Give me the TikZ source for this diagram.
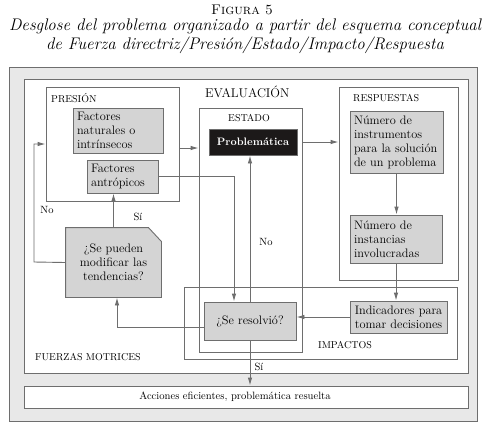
\documentclass[tikz,border=0pt]{standalone}
\usepackage{tikz}
\usetikzlibrary{positioning,arrows.meta}

\definecolor{linegray}{HTML}{6E6E6E}
\definecolor{boxgray}{HTML}{D4D4D4}
\definecolor{panelgray}{HTML}{E8E8E8}
\definecolor{darkbox}{HTML}{1C1919}

\begin{document}
\begin{tikzpicture}[
    x=1pt, y=-1pt,
    >={Latex[length=8pt,width=4.5pt]},
    frame/.style={rectangle, draw=linegray, line width=0.9pt, inner sep=0pt},
    item/.style={rectangle, draw=linegray, fill=boxgray, line width=0.9pt, align=left, font=\fontsize{12.3}{14}\selectfont, inner xsep=4pt, inner ysep=0pt},
    query/.style={item, align=center},
    dark/.style={rectangle, draw=linegray, fill=darkbox, text=white, line width=0.9pt, font=\fontsize{10.8}{14}\selectfont\bfseries, inner sep=0pt},
    head/.style={font=\fontsize{10}{12}\selectfont, inner sep=0pt, anchor=west},
    lbl/.style={font=\fontsize{10.5}{12}\selectfont, inner sep=0pt},
    arrow/.style={->, line width=0.9pt, draw=linegray, color=linegray}
]
\useasboundingbox (0,0) rectangle (489,429);

% Title
\node[font=\fontsize{14}{16}\selectfont\scshape] (fig) at (242,10) {Figura 5};
\node[font=\fontsize{16.8}{19}\selectfont\itshape, align=center] (title) at (245,36.5)
  {Desglose del problema organizado a partir del esquema conceptual\\de Fuerza directriz/Presi\'on/Estado/Impacto/Respuesta};

% Panels
\node[frame, fill=panelgray, minimum width=468, minimum height=354] (panel) at (243,244) {};
\node[frame, fill=white, minimum width=444, minimum height=294] (fuerzas) at (246,226) {};
\node[frame, fill=white, minimum width=444, minimum height=22] (acciones) at (246,397) {};
\node[font=\fontsize{10.6}{12}\selectfont, inner sep=0pt] (accionestxt) at (235,397) {Acciones eficientes, problem\'atica resuelta};

% Containers
\node[frame, minimum width=133, minimum height=114] (presion) at (112.5,144) {};
\node[frame, minimum width=103, minimum height=244] (estado) at (250.5,230) {};
\node[frame, minimum width=119, minimum height=193] (respuestas) at (398.5,183.5) {};
\node[frame, minimum width=273, minimum height=72] (impactos) at (320.5,323) {};

% Container headings
\node[head] (hpresion) at (51,98) {PRESI\'ON};
\node[head, font=\fontsize{12.7}{14}\selectfont] (hevaluacion) at (205,92) {EVALUACI\'ON};
\node[head] (hestado) at (228,118) {ESTADO};
\node[head] (hrespuestas) at (353,98) {RESPUESTAS};
\node[head] (himpactos) at (318,345) {IMPACTOS};
\node[head] (hfuerzas) at (35,357) {FUERZAS MOTRICES};

% Boxes
\node[item, text width=82, minimum height=45] (naturales) at (118,130.5) {Factores\\naturales o\\intr\'insecos};
\node[item, text width=63, minimum height=33] (antrop) at (122.5,176.5) {Factores\\antr\'opicos};
\node[dark, minimum width=88, minimum height=26] (prob) at (253,142) {Problem\'atica};
\node[item, text width=85, minimum height=62] (instr) at (396.5,142) {N\'umero de\\instrumentos\\para la soluci\'on\\de un problema};
\node[item, text width=84, minimum height=48] (inst) at (396,239) {N\'umero de\\instancias\\involucradas};
\node[query, text width=89, minimum height=32] (indic) at (398.5,317) {Indicadores para\\tomar decisiones};
\node[query, text width=84, minimum height=38] (resol) at (250,321) {?`Se resolvi\'o?};

% Dog-eared decision box
\node[frame, draw=none, minimum width=95, minimum height=69] (mod) at (113.5,262.5) {};
\filldraw[draw=linegray, fill=boxgray, line width=0.9pt] (mod.south west) |- ([xshift=-13pt]mod.north east)
  -- ([yshift=-14pt]mod.north east) |- (mod.south west) -- cycle;
\node[align=center, font=\fontsize{12.3}{14}\selectfont, inner sep=0pt] (modtxt) at (mod) {?`Se pueden\\modificar las\\tendencias?};

% === Arrows ===
\coordinate (loopL) at (34,262);
\draw[arrow] (mod.west) -- (loopL) |- (presion.west);
\draw[arrow] (mod.north) -- (mod.north |- antrop.south);
\draw[arrow] ([yshift=-4pt]presion.east) -- ([yshift=-4pt]presion.east -| estado.west);
\draw[arrow] (antrop.east) -| ([xshift=-16pt]resol.north);
\draw[arrow] (resol.north) -- (resol.north |- prob.south);
\draw[arrow] (estado.east |- prob) -- (respuestas.west |- prob);
\draw[arrow] (instr.south) -- (instr.south |- inst.north);
\draw[arrow] (inst.south) -- (inst.south |- indic.north);
\draw[arrow] (indic.west) -- (indic.west -| resol.east);
\draw[arrow] ([yshift=-6pt]resol.west) -| ([xshift=3.5pt]mod.south);
\draw[arrow] (resol.south) -- (resol.south |- acciones.north);

% Labels
\node[lbl] (no1) at (47,210) {No};
\node[lbl] (si1) at (138,217) {S\'i};
\node[lbl] (no2) at (266,242) {No};
\node[lbl] (si2) at (259,367) {S\'i};

\end{tikzpicture}
\end{document}
